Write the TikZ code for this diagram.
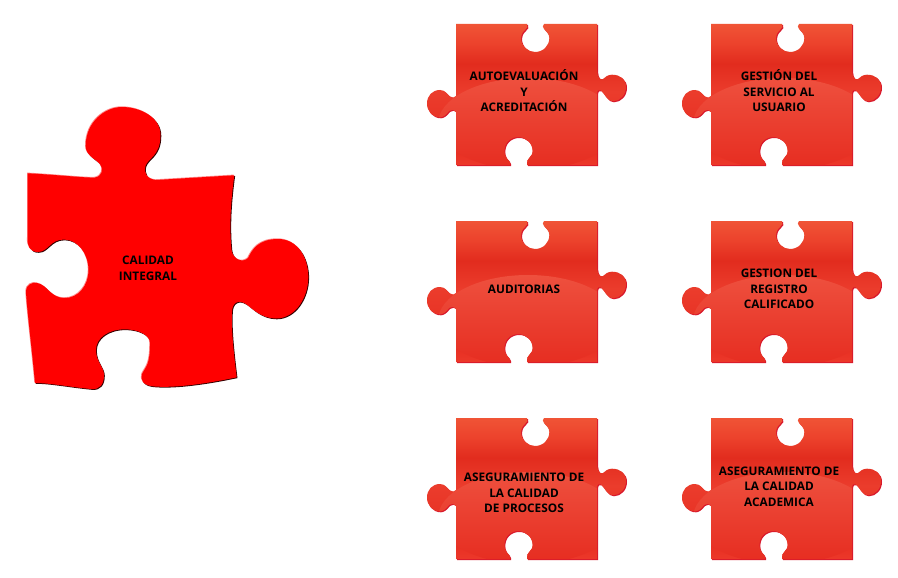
\documentclass[tikz,border=0pt]{standalone}
\usepackage{fontspec}
\setmainfont{Open Sans}
\definecolor{ptop}{RGB}{240,84,54}
\definecolor{pupper}{RGB}{236,66,44}
\definecolor{pdark}{RGB}{226,44,30}
\definecolor{pmid}{RGB}{235,60,44}
\definecolor{pbotb}{RGB}{230,44,32}
\definecolor{pbot}{RGB}{236,56,42}
\definecolor{pglow}{RGB}{238,80,62}
\definecolor{pedge}{RGB}{216,24,44}
\definecolor{bigred}{RGB}{255,0,0}
\pgfdeclareverticalshading{piecegloss}{100bp}{
  color(0bp)=(pbot); color(25bp)=(pbot); color(32bp)=(pbotb); color(51bp)=(pmid); color(61bp)=(pdark); color(68bp)=(pupper); color(75bp)=(ptop); color(100bp)=(ptop)}
\def\smallpath{(0,0) -- (71,0) .. controls (72.5,2.5) and (71,4) .. (69,6)
 .. controls (66,9) and (65,11) .. (65,14) .. controls (65,22) and (72,28) .. (79,28)
 .. controls (87,28) and (93.3,22) .. (93.3,14) .. controls (93.3,10) and (90,7) .. (88,5)
 .. controls (86.5,3) and (86.5,1.5) .. (88,0) -- (141,0) -- (141,47)
 .. controls (141.5,53) and (144,56.5) .. (147,55)
 .. controls (149,53) and (152,50.7) .. (156,50.7) .. controls (164,50.7) and (170,55) .. (170,63)
 .. controls (170,71) and (164,77.3) .. (157,77.3) .. controls (151,77.3) and (149,70) .. (145,66.5)
 .. controls (143,65.5) and (141,66) .. (141,70) -- (141,141) -- (71,141)
 .. controls (70,138) and (72,135) .. (74,133) .. controls (76,131) and (76.7,129.5) .. (76.7,127.3)
 .. controls (76.7,119) and (70,113) .. (62.3,113) .. controls (54,113) and (48.3,119) .. (48.3,127.3)
 .. controls (48.3,132) and (51,135) .. (53,137) .. controls (54,138.5) and (54.5,140) .. (54,141)
 -- (0,141) -- (0,88) .. controls (-2,85.5) and (-5,85) .. (-7,87)
 .. controls (-10,91) and (-13,93.3) .. (-16,93.3) .. controls (-24,93.3) and (-29,87) .. (-29,79.5)
 .. controls (-29,72) and (-24,66) .. (-16,66) .. controls (-11,66) and (-9,70) .. (-6,72.5)
 .. controls (-4,74) and (-1,74) .. (0,72) -- cycle}
\def\bigpath{(27.7,173.3) .. controls (60,175) and (85,178) .. (95,177.5)
 .. controls (102,176.5) and (104,169) .. (100,164) .. controls (94,158) and (85.7,155) .. (85.7,146)
 .. controls (85.7,122) and (105,107) .. (122,107) .. controls (140,107) and (160.5,117) .. (160.5,135)
 .. controls (160.5,156) and (148,158) .. (145.5,166) .. controls (143.5,173) and (147,179) .. (156,180)
 -- (234.3,175.3) .. controls (231,200) and (229,225) .. (231.5,250)
 .. controls (233,260) and (243,263) .. (248,258) .. controls (252,250) and (258,239) .. (278,239)
 .. controls (298,239) and (308.3,258) .. (308.3,277) .. controls (308.3,298) and (295,318.5) .. (276,318.5)
 .. controls (261,318.5) and (252,308) .. (246,304) .. controls (238,299) and (232,303) .. (232,312)
 .. controls (231,330) and (234,355) .. (236.7,377.3)
 .. controls (205,384) and (175,388) .. (155,386.5) .. controls (143,386) and (140,380) .. (142,374)
 .. controls (146,366) and (150,365) .. (150,343) .. controls (150,335) and (138,329.3) .. (125,329.3)
 .. controls (108,329.3) and (96,338) .. (96,350) .. controls (96,362) and (104,367) .. (104,375)
 .. controls (104,384) and (100,390) .. (91,389) .. controls (70,387) and (50,383) .. (35,383)
 .. controls (32,350) and (27,310) .. (26,292) .. controls (26,284) and (33,282) .. (37,283)
 .. controls (48,285) and (50,298) .. (65,298) .. controls (78,298) and (88.5,286) .. (88.5,270)
 .. controls (88.5,254) and (78,239.5) .. (64,239.5) .. controls (50,239.5) and (48,252) .. (38,252)
 .. controls (30,252) and (27,246) .. (27.7,238) -- cycle}
\tikzset{
  x=1pt,y=-1pt,
  piecelabel/.style={align=center,text=black,inner sep=0pt,font=\fontsize{11.8}{15.7}\selectfont\bfseries},
  pics/smallpiece/.style={code={
    \fill[pedge,shift={(1,1)}] \smallpath;
    \shade[shading=piecegloss] \smallpath;
    \begin{scope}
      \clip \smallpath;
      \shade[top color=pglow,middle color=pbotb,bottom color=pbotb] (72,100) ellipse (90 and 46);
    \end{scope}
  }}
}
\begin{document}
\begin{tikzpicture}
\useasboundingbox (0,0) rectangle (898,578);
\fill[white] (0,0) rectangle (898,578);
% big piece
\fill[black!80!red,shift={(0.8,0.8)}] \bigpath;
\fill[red!45!white,shift={(-0.7,-0.7)}] \bigpath;
\fill[bigred] \bigpath;
\node[piecelabel] (calidad) at (148,268.5) {CALIDAD\\INTEGRAL};
% small pieces
\pic at (456,24) {smallpiece};
\pic at (711,24) {smallpiece};
\pic at (456,221) {smallpiece};
\pic at (711,221) {smallpiece};
\pic at (456,418) {smallpiece};
\pic at (711,418) {smallpiece};
\node[piecelabel] (auto) at (524,90.6) {AUTOEVALUACIÓN\\Y\\ACREDITACIÓN};
\node[piecelabel] (servicio) at (779,90.6) {GESTIÓN DEL\\SERVICIO AL\\USUARIO};
\node[piecelabel] (auditorias) at (524,289) {AUDITORIAS};
\node[piecelabel] (registro) at (779,289) {GESTION DEL\\REGISTRO\\CALIFICADO};
\node[piecelabel] (procesos) at (524,493) {ASEGURAMIENTO DE\\LA CALIDAD\\DE PROCESOS};
\node[piecelabel] (academica) at (779,486.5) {ASEGURAMIENTO DE\\LA CALIDAD\\ACADEMICA};
\end{tikzpicture}
\end{document}
